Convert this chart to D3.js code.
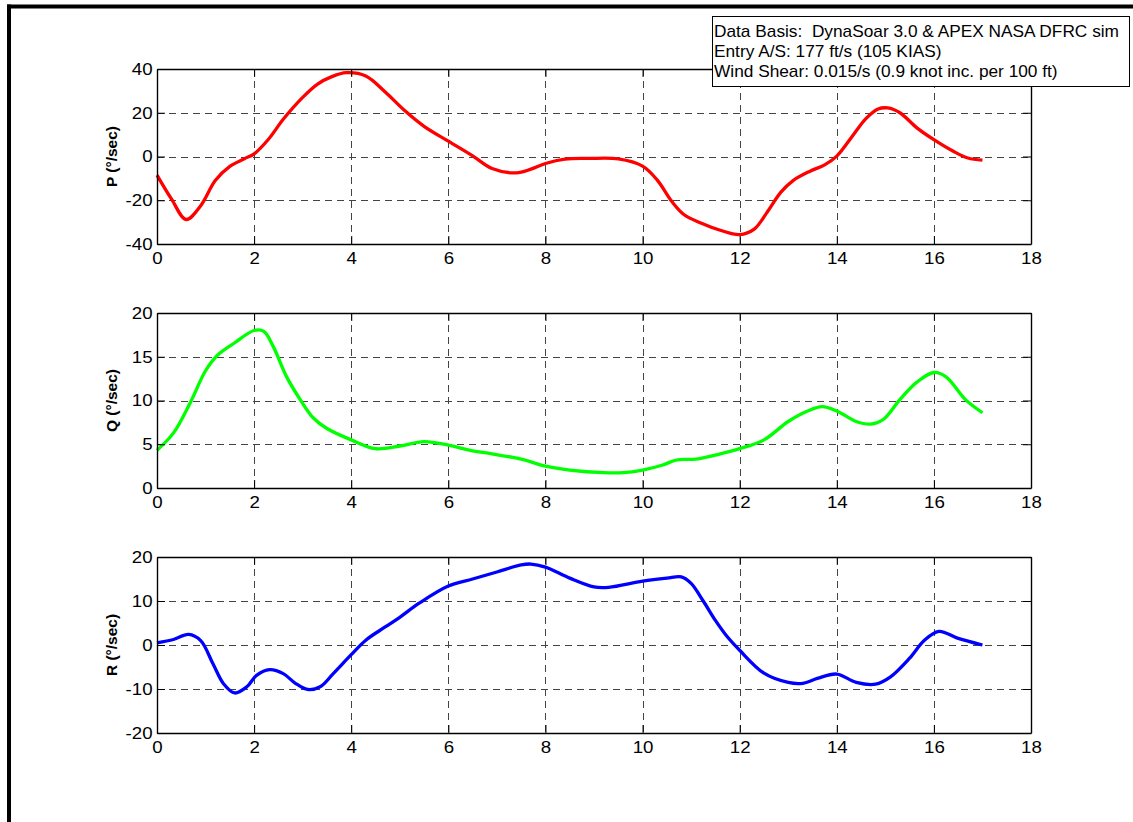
<!DOCTYPE html>
<html><head><meta charset="utf-8">
<script src="https://cdn.jsdelivr.net/npm/d3@7"></script>
<style>
body{margin:0;background:#fff}
svg{display:block}
text{font-family:"Liberation Sans",Arial,Helvetica,sans-serif}
</style>
</head><body>
<svg id="c" width="1133" height="822"></svg>
<script>
// ---- data ----
const tP = [0,0.3,0.6,0.9,1.2,1.5,1.8,2.0,2.3,2.6,3.0,3.3,3.6,3.9,4.3,4.7,5.1,5.5,6.0,6.5,6.9,7.4,7.7,8.0,8.4,8.9,9.5,10.0,10.3,10.6,10.85,11.2,11.6,12.0,12.3,12.55,12.85,13.1,13.45,13.75,14.0,14.35,14.6,14.85,15.05,15.3,15.65,16.0,16.4,16.7,17.0];
const vP = [-8.5,-19.5,-28.8,-22.5,-11,-4.5,-1,1.2,8,17,27,33,36.5,38.3,36.8,29.5,21,13.8,7,0.3,-5.5,-7.5,-5.8,-3.2,-1.2,-0.9,-1.1,-4.4,-10.7,-20.5,-26.5,-30.4,-33.7,-35.7,-33.2,-26,-16.3,-11,-6.7,-3.8,0.2,10.2,17.3,21.7,22.2,20,13.1,7.7,2.4,-0.7,-1.7];

const tQ = [0,0.34,0.68,1.0,1.25,1.6,2.0,2.2,2.4,2.67,2.95,3.22,3.5,4.0,4.5,5.0,5.5,6.0,6.45,6.9,7.5,8.0,8.5,9.2,9.6,10.0,10.4,10.7,11.1,11.6,12.0,12.5,13.0,13.4,13.7,14.0,14.4,14.7,14.95,15.3,15.65,16.0,16.25,16.65,17.0];
const vQ = [4.3,6.3,9.7,13.4,15.2,16.6,18.0,17.9,16.1,12.7,10.1,8.0,6.8,5.5,4.5,4.8,5.3,4.9,4.3,3.9,3.3,2.5,2.05,1.75,1.75,2.05,2.6,3.2,3.3,3.9,4.5,5.5,7.6,8.8,9.3,8.8,7.6,7.3,7.8,10.1,12.1,13.2,12.7,10.1,8.6];

const tR = [0,0.34,0.65,0.9,1.15,1.37,1.6,1.85,2.05,2.32,2.6,2.85,3.1,3.36,3.63,4.0,4.3,4.7,5.0,5.4,6.0,6.5,7.0,7.5,7.7,8.0,8.5,9.0,9.3,10.0,10.5,10.8,11.0,11.25,11.5,11.75,12.0,12.5,13.0,13.3,13.6,14.0,14.4,14.8,15.1,15.5,15.8,16.1,16.5,17.0];
const vR = [0.5,1.25,2.4,1.0,-4.2,-8.8,-10.9,-9.5,-6.9,-5.6,-6.5,-8.7,-10.1,-9.5,-6.5,-2.2,1.1,4.1,6.3,9.5,13.4,15,16.6,18.2,18.4,17.7,15.2,13.2,13.1,14.5,15.2,15.5,14,10,5.6,1.8,-1.2,-6.4,-8.5,-8.7,-7.6,-6.6,-8.5,-8.9,-7.3,-3,1,3.1,1.5,0];

const xTicks = [0,2,4,6,8,10,12,14,16,18];
const pTicks = [-40,-20,0,20,40];
const qTicks = [0,5,10,15,20];
const rTicks = [-20,-10,0,10,20];
const yLabels = ["P (°/sec)","Q (°/sec)","R (°/sec)"];
const seriesColors = ["#ff0000","#00ff00","#0000ff"];
const legendLines = [
  "Data Basis:  DynaSoar 3.0 & APEX NASA DFRC sim",
  "Entry A/S: 177 ft/s (105 KIAS)",
  "Wind Shear: 0.015/s (0.9 knot inc. per 100 ft)"
];

// ---- layout ----
const svg = d3.select("#c");
const X0 = 157, X1 = 1031;
const SX = 1.1;   // horizontal text stretch of the reference (tick labels)
const SXL = 1.08; // horizontal stretch for annotation text
const panels = [
  {t:tP, v:vP, ticks:pTicks, top:69, bottom:244},
  {t:tQ, v:vQ, ticks:qTicks, top:313, bottom:488},
  {t:tR, v:vR, ticks:rTicks, top:557, bottom:733}
];

// outer frame fragments
svg.append("rect").attr("x",7).attr("y",4.5).attr("width",1126).attr("height",4).attr("fill","#000");
svg.append("rect").attr("x",7).attr("y",4.5).attr("width",4).attr("height",818).attr("fill","#000");

const x = d3.scaleLinear().domain([0,18]).range([X0,X1]);
const fmt = d => String(d);

panels.forEach((p,i)=>{
  const y = d3.scaleLinear().domain(d3.extent(p.ticks)).range([p.bottom,p.top]);
  const g = svg.append("g");
  // grid
  const grid = g.append("g").attr("stroke","#444").attr("stroke-width",1).attr("stroke-dasharray","7,5");
  grid.selectAll("line.v").data(xTicks.slice(1,-1)).join("line")
    .attr("x1",d=>Math.round(x(d))+0.5).attr("x2",d=>Math.round(x(d))+0.5).attr("y1",p.top).attr("y2",p.bottom);
  grid.selectAll("line.h").data(p.ticks.slice(1,-1)).join("line")
    .attr("y1",d=>Math.round(y(d))+0.5).attr("y2",d=>Math.round(y(d))+0.5).attr("x1",X0).attr("x2",X1);

  // data line
  const pts = d3.zip(p.t,p.v);
  g.append("path").datum(pts)
    .attr("fill","none").attr("stroke",seriesColors[i]).attr("stroke-width",3.3)
    .attr("stroke-linejoin","round").attr("stroke-linecap","butt")
    .attr("d", d3.line().x(d=>x(d[0])).y(d=>y(d[1])).curve(d3.curveCatmullRom.alpha(0.5)));

  // axes (ticks inward, box on)
  const styleAxis = a => {
    a.attr("color","#000").attr("font-size",17).attr("font-family",null);
    a.select(".domain").attr("stroke-width",1.4);
    a.selectAll(".tick line").attr("stroke-width",1);
    a.selectAll("text").attr("transform",`scale(${SX},1)`).attr("fill","#000");
  };
  g.append("g").attr("transform",`translate(0,${p.bottom})`)
    .call(d3.axisBottom(x).tickValues(xTicks).tickSize(-8).tickSizeOuter(0).tickPadding(8).tickFormat(fmt))
    .call(styleAxis);
  g.append("g").attr("transform",`translate(0,${p.top})`)
    .call(d3.axisTop(x).tickValues(xTicks).tickSize(-8).tickSizeOuter(0).tickFormat(""))
    .call(styleAxis);
  g.append("g").attr("transform",`translate(${X0},0)`)
    .call(d3.axisLeft(y).tickValues(p.ticks).tickSize(-8).tickSizeOuter(0).tickPadding(4).tickFormat(fmt))
    .call(styleAxis);
  g.append("g").attr("transform",`translate(${X1},0)`)
    .call(d3.axisRight(y).tickValues(p.ticks).tickSize(-8).tickSizeOuter(0).tickFormat(""))
    .call(styleAxis);

  // y label
  g.append("text")
    .attr("transform",`translate(117,${(p.top+p.bottom)/2}) rotate(-90)`)
    .attr("text-anchor","middle").attr("font-weight","bold").attr("font-size",15.5)
    .attr("fill","#000").text(yLabels[i]);
});

// annotation box
const lg = svg.append("g");
lg.append("rect").attr("x",712.5).attr("y",16.5).attr("width",417).attr("height",70)
  .attr("fill","#fff").attr("stroke","#000").attr("stroke-width",1);
legendLines.forEach((s,k)=>{
  lg.append("text")
    .attr("transform",`translate(714,${36.5+k*20}) scale(${SXL},1)`)
    .attr("font-size",16).attr("fill","#000").style("white-space","pre").text(s);
});
</script>
</body></html>
